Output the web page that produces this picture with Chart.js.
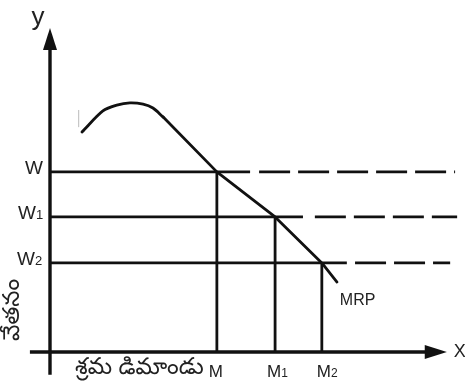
<!DOCTYPE html>
<html>
<head>
<meta charset="utf-8">
<script src="https://cdn.jsdelivr.net/npm/chart.js@4/dist/chart.umd.min.js"></script>
<style>
  html, body { margin: 0; padding: 0; background: #fff; }
  #wrap { width: 465px; height: 392px; }
</style>
</head>
<body>
<div id="wrap"><canvas id="chart"></canvas></div>
<script>
// wage levels (y) and labour hired at each wage (x)
var wageNames = ['W', 'W', 'W'];
var wageSubs = ['', '1', '2'];
var wageValues = [55.6, 41.7, 27.5];
var demandNames = ['M', 'M', 'M'];
var demandSubs = ['', '1', '2'];
var demandValues = [40.7, 54.9, 66.3];

// each wage line: solid part, then dashed part
var solidEnd = [48.8, 61.7, 72.4];
var dashStart = [51.0, 64.6, 74.4];
var dashEnd = [98.8, 99.3, 97.6];

// MRP: rounded hump, then the falling part
var mrpCurveX = [7.8, 12.9, 16.3, 19.5, 22.7, 25.1, 27.6];
var mrpCurveY = [67.9, 74.4, 76.2, 76.9, 76.5, 75.3, 72.5];
var mrpLineX = [27.6, 40.7, 54.9, 66.3, 70.0];
var mrpLineY = [72.5, 55.6, 41.7, 27.5, 21.6];

var yAxisTitle = 'వేతనం';
var xAxisTitle = 'శ్రమ డిమాండు';
var curveName = 'MRP';

var ink = '#111';
var datasets = [];

function seg(x1, y1, x2, y2, width, dash) {
  return {
    data: [{x: x1, y: y1}, {x: x2, y: y2}],
    showLine: true,
    borderColor: ink,
    borderWidth: width,
    borderDash: dash || [],
    pointRadius: 0,
    tension: 0
  };
}

function pts(xs, ys) {
  return xs.map(function(x, k) { return {x: x, y: ys[k]}; });
}

for (var i = 0; i < wageValues.length; i++) {
  datasets.push(seg(0, wageValues[i], solidEnd[i], wageValues[i], 2.6));
  datasets.push(seg(dashStart[i], wageValues[i], dashEnd[i], wageValues[i], 2.6, [31, 8]));
  datasets.push(seg(demandValues[i], 0, demandValues[i], wageValues[i], 2.8));
}

datasets.push({
  data: pts(mrpCurveX, mrpCurveY),
  showLine: true, borderColor: ink, borderWidth: 2.8,
  pointRadius: 0, tension: 0.3, borderCapStyle: 'round'
});
datasets.push({
  data: pts(mrpLineX, mrpLineY),
  showLine: true, borderColor: ink, borderWidth: 2.8,
  pointRadius: 0, tension: 0, borderJoinStyle: 'round', borderCapStyle: 'round'
});

var telugu = "'Noto Sans Telugu', 'Noto Sans', sans-serif";
var latin = "'Liberation Sans', Arial, sans-serif";

function subLabel(ctx, name, sub, x, y, size, subSize) {
  ctx.font = size + 'px ' + latin;
  ctx.fillText(name, x, y);
  if (sub) {
    var w = ctx.measureText(name).width;
    ctx.font = subSize + 'px ' + latin;
    ctx.fillText(sub, x + w, y);
  }
}

var axesPlugin = {
  id: 'axes',
  afterDatasetsDraw: function(chart) {
    var ctx = chart.ctx;
    var xs = chart.scales.x, ys = chart.scales.y;
    var px = function(v) { return xs.getPixelForValue(v); };
    var py = function(v) { return ys.getPixelForValue(v); };
    var ox = px(0), oy = py(0);

    ctx.save();
    ctx.strokeStyle = ink;
    ctx.fillStyle = ink;
    ctx.lineWidth = 3.4;

    // y axis with arrow
    ctx.beginPath();
    ctx.moveTo(ox, py(-7));
    ctx.lineTo(ox, py(94));
    ctx.stroke();
    ctx.beginPath();
    ctx.moveTo(ox, py(100));
    ctx.lineTo(ox - 7, py(93.2));
    ctx.lineTo(ox + 7, py(93.2));
    ctx.closePath();
    ctx.fill();

    // x axis with arrow
    ctx.beginPath();
    ctx.moveTo(px(-4.9), oy);
    ctx.lineTo(px(92), oy);
    ctx.stroke();
    ctx.beginPath();
    ctx.moveTo(px(96.8), oy);
    ctx.lineTo(px(91.4), oy - 7);
    ctx.lineTo(px(91.4), oy + 7);
    ctx.closePath();
    ctx.fill();

    // faint mark near start of the curve
    ctx.strokeStyle = '#bbb';
    ctx.lineWidth = 1;
    ctx.beginPath();
    ctx.moveTo(px(7.0), py(74.7));
    ctx.lineTo(px(7.0), py(69.4));
    ctx.stroke();

    ctx.fillStyle = '#222';
    ctx.textAlign = 'left';
    ctx.textBaseline = 'alphabetic';

    // wage tick labels
    var wageLeft = [25, 18, 17];
    for (var i = 0; i < wageValues.length; i++) {
      subLabel(ctx, wageNames[i], wageSubs[i], wageLeft[i], py(wageValues[i]) + 2, 19, 13);
    }
    // demand tick labels
    for (var j = 0; j < demandValues.length; j++) {
      subLabel(ctx, demandNames[j], demandSubs[j], px(demandValues[j]) - (j === 2 ? 5 : 8), oy + 25, 17, 12);
    }

    // axis letters
    ctx.font = '26px ' + latin;
    ctx.textAlign = 'center';
    ctx.fillText('y', ox - 12, py(100) - 3);
    ctx.font = '18px ' + latin;
    ctx.textAlign = 'left';
    ctx.textBaseline = 'middle';
    ctx.fillText('X', px(98.5), oy);

    // curve name
    ctx.font = '16px ' + latin;
    ctx.textBaseline = 'alphabetic';
    ctx.fillText(curveName, px(70.7), py(14.5));

    // Telugu axis titles
    ctx.font = '23px ' + telugu;
    ctx.textAlign = 'left';
    ctx.textBaseline = 'middle';
    ctx.fillText(xAxisTitle, px(6.1), oy + 19);

    ctx.save();
    ctx.translate(ox - 34, py(13));
    ctx.rotate(-Math.PI / 2);
    ctx.textAlign = 'center';
    ctx.textBaseline = 'middle';
    ctx.font = '23px ' + telugu;
    ctx.fillText(yAxisTitle, 0, 0);
    ctx.restore();

    ctx.restore();
  }
};

new Chart(document.getElementById('chart'), {
  type: 'scatter',
  data: { datasets: datasets },
  options: {
    responsive: true,
    maintainAspectRatio: false,
    animation: false,
    layout: { padding: { left: 50, right: 5, top: 28, bottom: 40 } },
    plugins: { legend: { display: false }, tooltip: { enabled: false } },
    scales: {
      x: { type: 'linear', min: 0, max: 100, display: false },
      y: { type: 'linear', min: 0, max: 100, display: false }
    }
  },
  plugins: [axesPlugin]
});
</script>
</body>
</html>
